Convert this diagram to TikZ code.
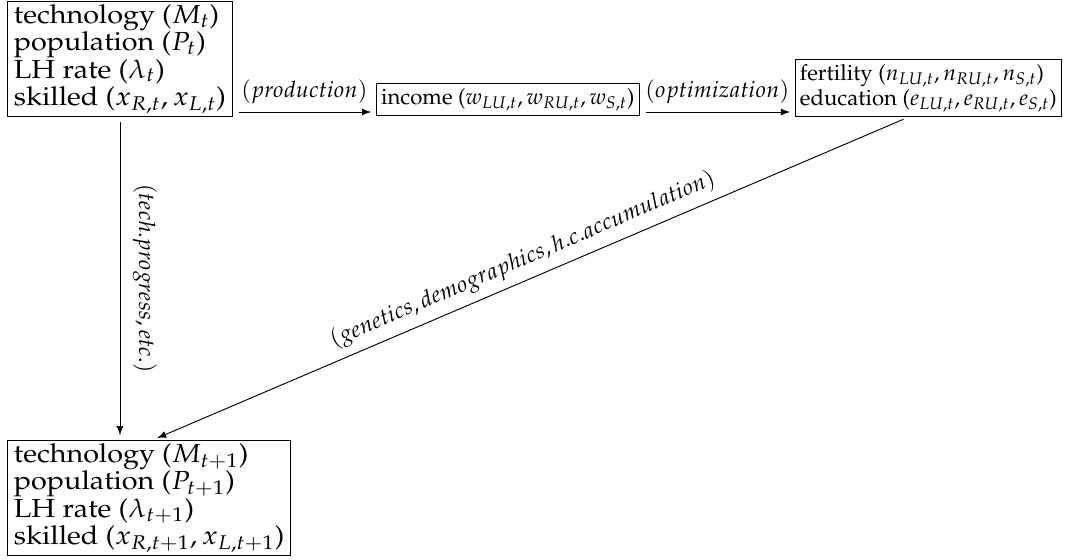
\documentclass[tikz,border=0pt]{standalone}
\usepackage[T1]{fontenc}
\usepackage{mathpazo}
\usepackage{amsmath}
\usetikzlibrary{positioning, arrows}
\tikzset{
	>=latex, % small filled arrow heads
	stock/.style={draw, align=left, xscale=1.1, inner xsep=2.5pt, inner ysep=1.3pt, font=\fontsize{11.2}{11.7}\selectfont}, % the state of the economy
	outcome/.style={draw, align=left, inner xsep=2pt, inner ysep=2pt, font=\fontsize{9.5}{10.7}\selectfont}, % the period-t results
	flow/.style={->, shorten <=2.5pt, shorten >=2pt}, % the transition arrows
	lab/.style={font=\fontsize{9.7}{11}\selectfont}, % arrow labels
}

\begin{document}
\begin{tikzpicture}[x=0.42857pt, y=-0.42857pt]
	\useasboundingbox (0,0) rectangle (1065,559);
	\node[stock, anchor=north west] (now) at (7,1) {technology ($M_t$)\\ population ($P_t$)\\ LH rate ($\lambda_t$)\\ skilled ($x_{R,t},x_{L,t}$)};
	\node[outcome, anchor=south west] (income) at (376,116) {income ($w_{LU,t},w_{RU,t},w_{S,t}$)};
	\node[outcome, anchor=south east] (choice) at (1062,117) {fertility ($n_{LU,t},n_{RU,t},n_{S,t}$)\\ education ($e_{LU,t},e_{RU,t},e_{S,t}$)};
	\node[stock, anchor=north west] (next) at (7,440) {technology ($M_{t+1}$)\\ population ($P_{t+1}$)\\ LH rate ($\lambda_{t+1}$)\\ skilled ($x_{R,t+1},x_{L,t+1}$)};
	\coordinate (row) at (0,112);
	\draw[flow] (now.east |- row) -- (income.west |- row) node[lab, midway, above] {$(production)$};
	\draw[flow] (income.east |- row) -- (choice.west |- row) node[lab, midway, above] {$(optimization)$};
	\draw[flow] (now.south) -- (now.south |- next.north) node[lab, midway, rotate=-90, anchor=south, yshift=2pt] {$(tech.progress,etc.)$};
	\draw[flow] ([xshift=-8.4pt]choice.south) -- ([xshift=1.5pt]next.north) node[lab, midway, sloped, above] {$(genetics,demographics,h.c.accumulation)$};
\end{tikzpicture}
\end{document}
